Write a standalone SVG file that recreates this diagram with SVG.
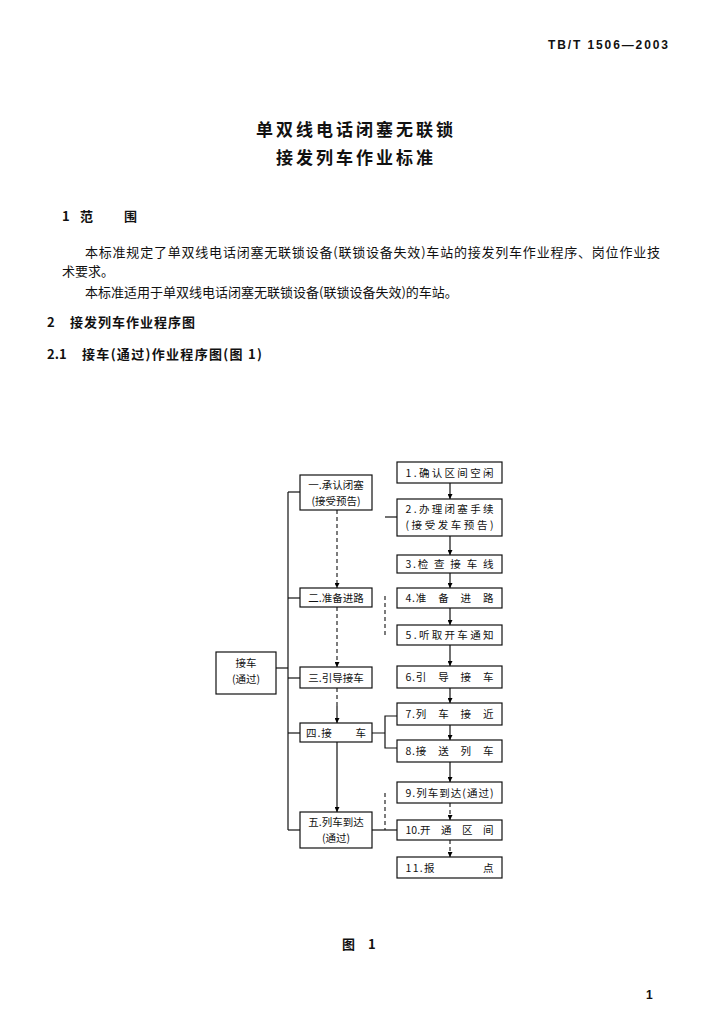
<svg xmlns="http://www.w3.org/2000/svg" width="712" height="1024" viewBox="0 0 712 1024">
<defs>
<marker id="ah" viewBox="0 0 8 8" refX="8" refY="4" markerWidth="5" markerHeight="5" orient="auto" markerUnits="userSpaceOnUse">
<path d="M0,0 L8,4 L0,8 z" fill="#000"/>
</marker>
<style>
text{font-family:"Noto Sans CJK SC","Liberation Sans",sans-serif;fill:#111}
.hd{font-size:12px;font-weight:bold;font-family:"Liberation Sans","Noto Sans CJK SC",sans-serif}
.tt{font-size:17px;font-weight:bold;text-anchor:middle;letter-spacing:3px}
.h2{font-size:13px;font-weight:bold}
.p{font-size:13px}
.bx{fill:#fff;stroke:#111;stroke-width:1.2}
.lb{font-size:10.5px;text-anchor:middle}
.ln{fill:none;stroke:#111;stroke-width:1.2}
.dl{fill:none;stroke:#111;stroke-width:1.1;stroke-dasharray:4 3}
.ar{marker-end:url(#ah)}
</style>
</defs>
<rect width="712" height="1024" fill="#fff"/>

<text class="hd" x="548" y="49" textLength="120" lengthAdjust="spacing">TB/T 1506—2003</text>
<text class="tt" x="356" y="136">单双线电话闭塞无联锁</text>
<text class="tt" x="356" y="164">接发列车作业标准</text>

<text class="h2" x="62" y="221">1</text>
<text class="h2" x="80" y="221">范</text>
<text class="h2" x="124" y="221">围</text>
<text class="p" x="85" y="257" textLength="575" lengthAdjust="spacing">本标准规定了单双线电话闭塞无联锁设备(联锁设备失效)车站的接发列车作业程序、岗位作业技</text>
<text class="p" x="62" y="276">术要求。</text>
<text class="p" x="85" y="297">本标准适用于单双线电话闭塞无联锁设备(联锁设备失效)的车站。</text>
<text class="h2" x="47" y="327">2</text>
<text class="h2" x="70" y="327" textLength="125" lengthAdjust="spacing">接发列车作业程序图</text>
<text class="h2" x="47" y="359">2.1</text>
<text class="h2" x="82" y="359" textLength="180" lengthAdjust="spacing">接车(通过)作业程序图(图 1)</text>

<g id="connectors">
<line class="ln" x1="288" y1="492" x2="288" y2="830"/>
<line class="ln" x1="276" y1="668" x2="288" y2="668"/>
<line class="ln" x1="288" y1="492" x2="300" y2="492"/>
<line class="ln" x1="288" y1="598" x2="300" y2="598"/>
<line class="ln" x1="288" y1="678" x2="300" y2="678"/>
<line class="ln" x1="288" y1="733" x2="300" y2="733"/>
<line class="ln" x1="288" y1="830" x2="300" y2="830"/>

<line class="dl ar" x1="337" y1="510" x2="337" y2="588"/>
<line class="dl ar" x1="337" y1="607" x2="337" y2="667"/>
<line class="dl" x1="337" y1="688" x2="337" y2="706"/>
<line class="ln ar" x1="337" y1="706" x2="337" y2="723"/>
<line class="ln ar" x1="337" y1="742" x2="337" y2="812"/>

<line class="ln ar" x1="450" y1="483" x2="450" y2="499"/>
<line class="ln ar" x1="450" y1="536" x2="450" y2="555"/>
<line class="ln ar" x1="450" y1="573" x2="450" y2="588"/>
<line class="ln ar" x1="450" y1="608" x2="450" y2="625"/>
<line class="ln ar" x1="450" y1="645" x2="450" y2="666"/>
<line class="ln ar" x1="450" y1="688" x2="450" y2="703"/>
<line class="ln ar" x1="450" y1="725" x2="450" y2="740"/>
<line class="ln ar" x1="450" y1="762" x2="450" y2="782"/>
<line class="dl ar" x1="450" y1="803" x2="450" y2="820"/>
<line class="dl ar" x1="450" y1="840" x2="450" y2="857"/>

<line class="ln" x1="385" y1="517" x2="397" y2="517"/>
<line class="dl" x1="385" y1="596" x2="385" y2="636"/>
<path class="ln" d="M372,733 H385 M397,716 H385 V748 H397"/>
<line class="ln" x1="372" y1="830" x2="397" y2="830"/>
<line class="dl" x1="385" y1="793" x2="385" y2="830"/>
</g>

<g id="n-start"><rect class="bx" x="216" y="652" width="60" height="42"/><text class="lb" x="246" y="667">接车</text><text class="lb" x="246" y="683">(通过)</text></g>

<g id="n-s1"><rect class="bx" x="300" y="475" width="72" height="35"/><text class="lb" x="336" y="489">一.承认闭塞</text><text class="lb" x="336" y="505">(接受预告)</text></g>
<g id="n-s2"><rect class="bx" x="300" y="588" width="72" height="19"/><text class="lb" x="336" y="601.5">二.准备进路</text></g>
<g id="n-s3"><rect class="bx" x="300" y="667" width="72" height="21"/><text class="lb" x="336" y="681.5">三.引导接车</text></g>
<g id="n-s4"><rect class="bx" x="300" y="723" width="72" height="19"/><text class="lb" x="336" y="736.5" textLength="60" lengthAdjust="spacing">四.接　　车</text></g>
<g id="n-s5"><rect class="bx" x="300" y="812" width="72" height="36"/><text class="lb" x="336" y="826">五.列车到达</text><text class="lb" x="336" y="842">(通过)</text></g>

<g id="n1"><rect class="bx" x="397" y="462" width="105" height="21"/><text class="lb" x="449.5" y="476.5" textLength="88" lengthAdjust="spacing">1.确认区间空闲</text></g>
<g id="n2"><rect class="bx" x="397" y="499" width="105" height="37"/><text class="lb" x="449.5" y="513" textLength="88" lengthAdjust="spacing">2.办理闭塞手续</text><text class="lb" x="449.5" y="529" textLength="88" lengthAdjust="spacing">(接受发车预告)</text></g>
<g id="n3"><rect class="bx" x="397" y="555" width="105" height="18"/><text class="lb" x="449.5" y="568" textLength="88" lengthAdjust="spacing">3.检 查 接 车 线</text></g>
<g id="n4"><rect class="bx" x="397" y="588" width="105" height="20"/><text class="lb" x="449.5" y="602" textLength="88" lengthAdjust="spacing">4.准　备　进　路</text></g>
<g id="n5"><rect class="bx" x="397" y="625" width="105" height="20"/><text class="lb" x="449.5" y="639" textLength="88" lengthAdjust="spacing">5.听取开车通知</text></g>
<g id="n6"><rect class="bx" x="397" y="666" width="105" height="22"/><text class="lb" x="449.5" y="681" textLength="88" lengthAdjust="spacing">6.引　导　接　车</text></g>
<g id="n7"><rect class="bx" x="397" y="703" width="105" height="22"/><text class="lb" x="449.5" y="718" textLength="88" lengthAdjust="spacing">7.列　车　接　近</text></g>
<g id="n8"><rect class="bx" x="397" y="740" width="105" height="22"/><text class="lb" x="449.5" y="755" textLength="88" lengthAdjust="spacing">8.接　送　列　车</text></g>
<g id="n9"><rect class="bx" x="397" y="782" width="105" height="21"/><text class="lb" x="449.5" y="796.5" textLength="88" lengthAdjust="spacing">9.列车到达(通过)</text></g>
<g id="n10"><rect class="bx" x="397" y="820" width="105" height="20"/><text class="lb" x="449.5" y="834" textLength="88" lengthAdjust="spacing">10.开　通　区　间</text></g>
<g id="n11"><rect class="bx" x="397" y="857" width="105" height="21"/><text class="lb" x="449.5" y="871.5" textLength="88" lengthAdjust="spacing">11.报　　　　点</text></g>

<text class="h2" x="342" y="949">图</text>
<text class="h2" x="368" y="949">1</text>
<text class="hd" x="646" y="999">1</text>
</svg>
